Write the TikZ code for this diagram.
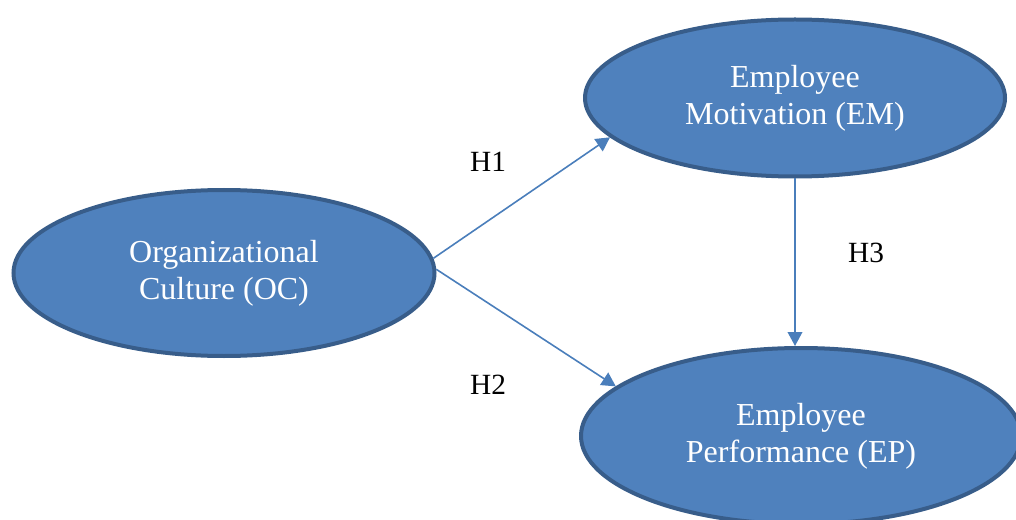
\documentclass[tikz,border=0pt]{standalone}
\usepackage{fontspec}
\setmainfont{Liberation Serif}
\usetikzlibrary{arrows.meta,shapes.geometric}
\definecolor{shapefill}{HTML}{4F81BD}
\definecolor{shapeline}{HTML}{385D8A}
\definecolor{arrowline}{HTML}{4A7EBB}
\tikzset{
  construct/.style = {
    ellipse,
    draw=shapeline,
    fill=shapefill,
    line width=3pt,
    inner sep=0pt,
    text=white
  },
  relation/.style = {
    draw=arrowline,
    line width=1.2pt,
    -{Triangle[length=10.5pt,width=11pt]}
  },
  construct class/.style={
    every text node part/.style={
      align=center,
      font={\fontsize{24}{27.8}\selectfont}
    }
  },
  hypothesis class/.style={
    every text node part/.style={
      font={\fontsize{22}{26}\selectfont}
    }
  },
}

\begin{document}
\begin{tikzpicture}[x=0.75pt,y=-0.75pt]

  \useasboundingbox (0,0) rectangle (1016,520);

  \node[construct, construct class, minimum width=315.75pt, minimum height=124.5pt]
    (OC) at (224,273) {Organizational\\Culture (OC)};
  \node[construct, construct class, minimum width=315pt, minimum height=117.75pt]
    (EM) at (795,98) {Employee\\Motivation (EM)};
  \node[construct, construct class, minimum width=330pt, minimum height=132pt]
    (EP) at (801,436) {Employee\\Performance (EP)};

  \draw[relation] (OC.4) -- (EM.192);
  \draw[relation] (OC.1.5) -- (EP.165);
  \draw[relation] (EM.south) -- (EM.south |- EP.north);

  \node[hypothesis class] (H1) at (488,162) {H1};
  \node[hypothesis class] (H2) at (488,385) {H2};
  \node[hypothesis class] (H3) at (866,253) {H3};

\end{tikzpicture}
\end{document}
